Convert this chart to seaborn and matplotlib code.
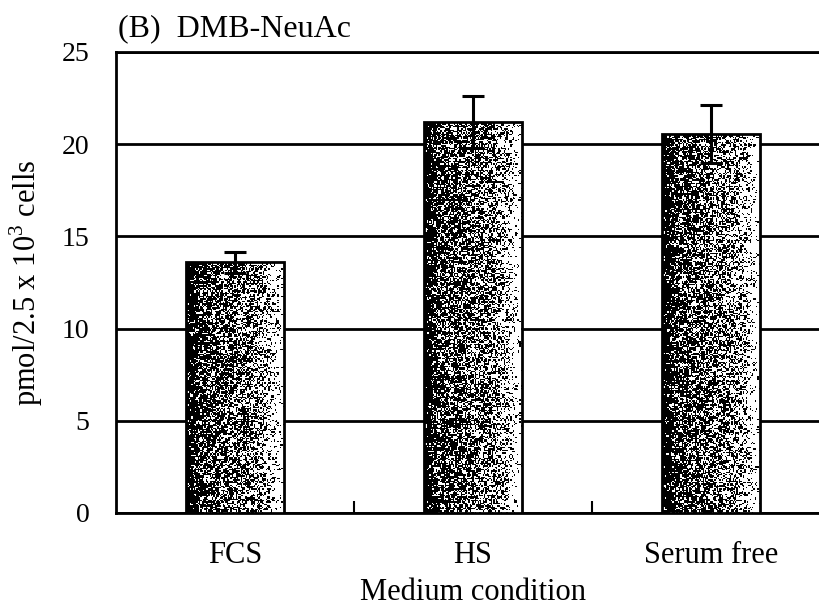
import numpy as np
import pandas as pd
import matplotlib
matplotlib.use("Agg")
import matplotlib.pyplot as plt
import seaborn as sns

# DMB-NeuAc content per medium condition (mean and SD)
conditions = ["FCS", "HS", "Serum free"]
values = [13.6, 21.2, 20.55]
errors = [0.57, 1.4, 1.55]
y_ticks = [0, 5, 10, 15, 20, 25]

sns.set_theme(style="white")
plt.rcParams["font.family"] = ["Liberation Serif", "DejaVu Serif"]
plt.rcParams["mathtext.fontset"] = "custom"
plt.rcParams["mathtext.rm"] = "Liberation Serif"
plt.rcParams["text.color"] = "black"
plt.rcParams["axes.labelcolor"] = "black"
plt.rcParams["xtick.color"] = "black"
plt.rcParams["ytick.color"] = "black"

df = pd.DataFrame({"condition": conditions, "value": values})

fig = plt.figure(figsize=(8.2, 6.13), dpi=100)
ax = fig.add_axes([116 / 820, 1 - 513 / 613, 714 / 820, 461 / 613])

sns.barplot(data=df, x="condition", y="value", order=conditions,
            color="white", edgecolor="black", linewidth=2.0,
            width=0.41, errorbar=None, ax=ax, zorder=3)


def box_blur(a, k):
    kern = np.ones(k) / k
    a = np.apply_along_axis(lambda r: np.convolve(r, kern, mode="same"), 1, a)
    a = np.apply_along_axis(lambda c: np.convolve(c, kern, mode="same"), 0, a)
    return a


# stippled fill inside each bar: solid at the left edge, fading to the right
rng = np.random.default_rng(11)
for patch in ax.patches:
    x0 = patch.get_x()
    w = patch.get_width()
    h = patch.get_height()
    ncols = 75
    nrows = max(int(h * 14.3), 2)
    xs = np.linspace(0, 1, ncols)
    density = np.interp(xs, [0.0, 0.05, 0.12, 0.35, 0.7, 0.86, 0.94, 1.0],
                        [1.0, 0.95, 0.75, 0.64, 0.5, 0.3, 0.1, 0.02])
    clumps = box_blur(rng.standard_normal((nrows, ncols)), 3)
    clumps = clumps / clumps.std() * 0.13
    noise = rng.random((nrows, ncols))
    tex = (noise > density[None, :] + clumps).astype(float)
    im = ax.imshow(tex, cmap="gray", vmin=0, vmax=1, interpolation="nearest",
                   extent=(x0, x0 + w, 0, h), aspect="auto", zorder=3.5)
    im.set_clip_path(patch)
    patch.set_zorder(4)
    patch.set_facecolor("none")

ax.errorbar(np.arange(len(conditions)), values, yerr=errors, fmt="none",
            ecolor="black", elinewidth=2.2, capsize=8, capthick=2.2, zorder=5)

ax.set_xlim(-0.5, 2.5)
ax.set_ylim(0, 25)
ax.set_yticks(y_ticks)
ax.set_yticklabels([str(t) for t in y_ticks], fontsize=20)
ax.yaxis.grid(True, color="black", linewidth=2.0)
ax.set_axisbelow(True)

ax.set_xticks(range(len(conditions)))
ax.set_xticklabels(conditions, fontsize=22)
ax.set_xticks([0.5, 1.5], minor=True)
ax.tick_params(axis="x", which="major", length=0, pad=20)
ax.tick_params(axis="x", which="minor", direction="in", length=9, width=1.5,
               bottom=True)
ax.tick_params(axis="y", length=0, pad=19)

for side in ["left", "bottom", "top", "right"]:
    ax.spines[side].set_color("black")
    ax.spines[side].set_linewidth(2.0)

ax.set_xlabel("Medium condition", fontsize=22, labelpad=6)
ax.set_ylabel(r"pmol/2.5 x 10$^3$ cells", fontsize=22)
ax.yaxis.set_label_coords(-0.099, 0.5)

fig.text(118 / 820, 1 - 36 / 613, "(B)  DMB-NeuAc", fontsize=23,
         ha="left", va="baseline")

fig.savefig("out.png", dpi=100)
